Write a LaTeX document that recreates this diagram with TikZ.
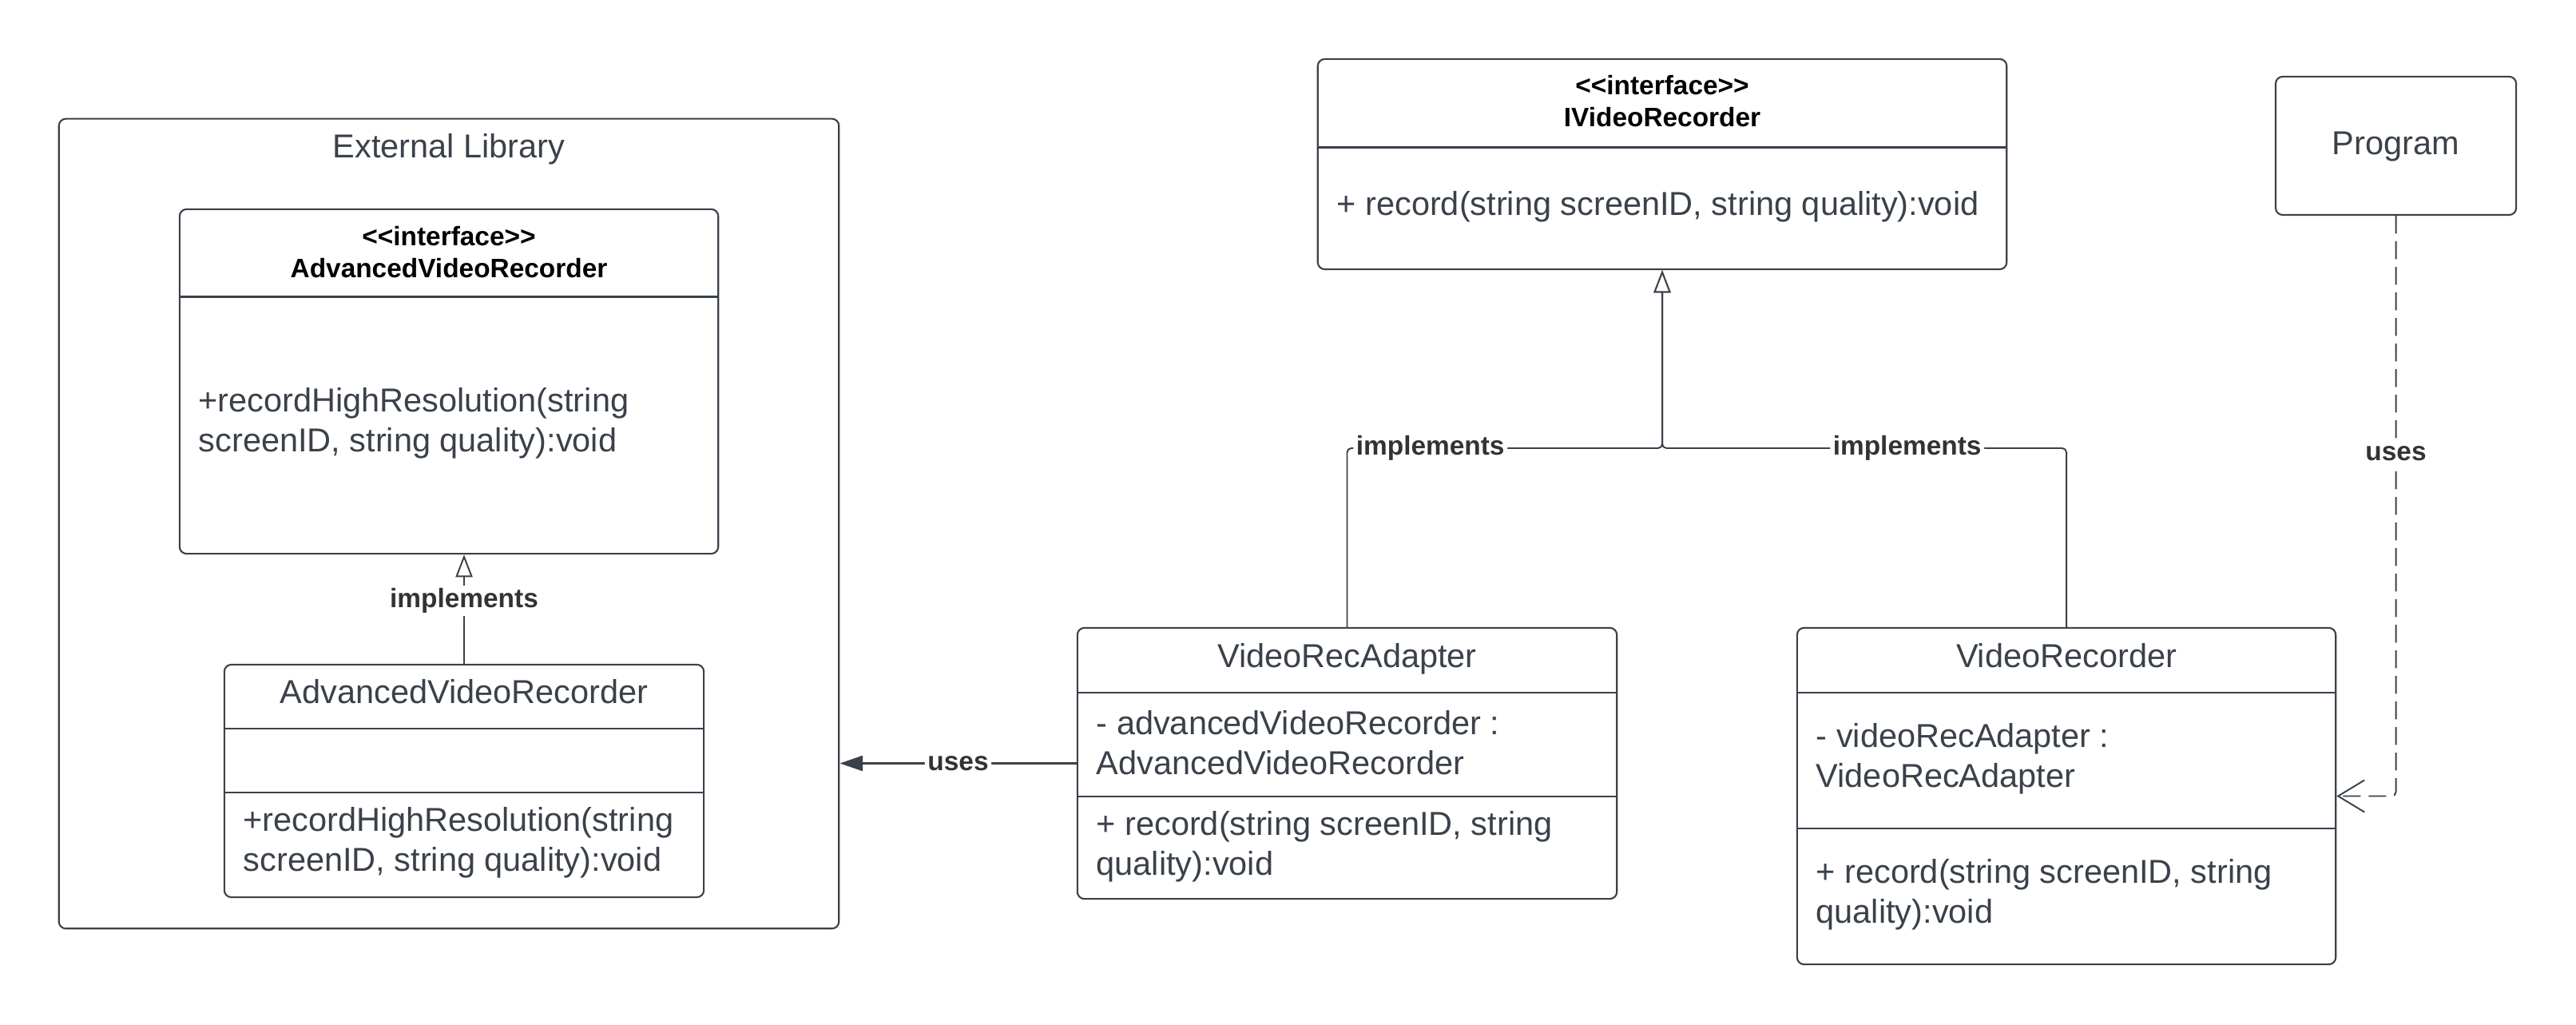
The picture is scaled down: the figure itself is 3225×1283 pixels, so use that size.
\documentclass[tikz,border=0pt]{standalone}
\usepackage{fontspec}
\setmainfont{Liberation Sans}
\usetikzlibrary{arrows.meta}
\definecolor{lucidline}{HTML}{3A414A}
\definecolor{lucidlabel}{HTML}{333333}

\begin{document}
\begin{tikzpicture}[x=0.01cm, y=-0.01cm,
    box/.style={draw=lucidline, line width=0.6pt, rounded corners=2.5pt, inner sep=0pt},
    divider/.style={draw=lucidline, line width=0.85pt},
    txt/.style={text=lucidline, font=\fontsize{11.8}{14.2}\selectfont, inner sep=0pt, align=left, anchor=west},
    title/.style={txt, align=center, anchor=center, text height=0.72em, text depth=0.21em},
    head/.style={font=\bfseries\fontsize{9.5}{11.4}\selectfont, inner sep=0pt, align=center},
    lbl/.style={text=lucidlabel, font=\bfseries\fontsize{9.5}{11.4}\selectfont, fill=white, inner sep=1pt},
    conn/.style={draw=lucidline, line width=0.55pt, rounded corners=1.5pt},
    realize/.style={conn, -{Triangle[length=8pt, width=6pt, fill=white]}},
    uses/.style={conn, line width=0.8pt, -{Triangle[length=8.2pt, width=5.4pt]}},
    dep/.style={conn, dash pattern=on 6.3pt off 2.8pt, -{Straight Barb[length=9.4pt, width=11.4pt]}}
  ]
    \useasboundingbox (0,0) rectangle (3225,1283);

    % external library
    \node[box, minimum width=9.76cm, minimum height=10.13cm] (extlib) at (562,655.5) {};
    \node[title] (extlibname) at (562,189) {External Library};

    \node[box, minimum width=6.74cm, minimum height=4.31cm] (avri) at (562,477.5) {};
    \node[head] (avrihead) at (562,316) {<{}<interface>{}>\\AdvancedVideoRecorder};
    \draw[divider] (avri.west |- 0,372) -- (avri.east |- 0,372);
    \node[txt] (avrimeth) at (248,530) {+recordHighResolution(string\\screenID, string quality):void};

    \node[box, minimum width=6cm, minimum height=2.91cm] (avrc) at (581,977.5) {};
    \node[title] (avrcname) at (581,872) {AdvancedVideoRecorder};
    \draw[divider] (avrc.west |- 0,912) -- (avrc.east |- 0,912);
    \draw[divider] (avrc.west |- 0,992) -- (avrc.east |- 0,992);
    \node[txt] (avrcmeth) at (304,1055) {+recordHighResolution(string\\screenID, string quality):void};

    % adapter
    \node[box, minimum width=6.75cm, minimum height=3.39cm] (vra) at (1686.5,955.5) {};
    \node[title] (vraname) at (1686.5,827) {VideoRecAdapter};
    \draw[divider] (vra.west |- 0,867) -- (vra.east |- 0,867);
    \draw[divider] (vra.west |- 0,997) -- (vra.east |- 0,997);
    \node[txt] (vraattr) at (1372,930) {- advancedVideoRecorder :\\AdvancedVideoRecorder};
    \node[txt] (vrameth) at (1372,1060) {+ record(string screenID, string\\quality):void};

    % target interface
    \node[box, minimum width=8.62cm, minimum height=2.63cm] (ivr) at (2081,205.5) {};
    \node[head] (ivrhead) at (2081,127) {<{}<interface>{}>\\IVideoRecorder};
    \draw[divider] (ivr.west |- 0,185) -- (ivr.east |- 0,185);
    \node[txt] (ivrmeth) at (1673,259) {+ record(string screenID, string quality):void};

    % recorder
    \node[box, minimum width=6.74cm, minimum height=4.21cm] (vr) at (2587,996.5) {};
    \node[title] (vrname) at (2587,827) {VideoRecorder};
    \draw[divider] (vr.west |- 0,867) -- (vr.east |- 0,867);
    \draw[divider] (vr.west |- 0,1037) -- (vr.east |- 0,1037);
    \node[txt] (vrattr) at (2273,950) {- videoRecAdapter :\\VideoRecAdapter};
    \node[txt] (vrmeth) at (2273,1120) {+ record(string screenID, string\\quality):void};

    % client
    \node[box, minimum width=3.01cm, minimum height=1.73cm] (prog) at (2999.5,182.5) {};
    \node[title] (progname) at (2999.5,185) {Program};

    % connectors
    \coordinate (jn) at (ivr.south |- 0,561);
    \draw[realize] (vra.north) |- node[lbl, pos=0.632] {implements} (jn) -- (ivr.south);
    \draw[realize] (vr.north) |- node[lbl, pos=0.697] {implements} (jn) -- (ivr.south);
    \draw[realize] (avrc.north) -- node[lbl, pos=0.576] {implements} (avrc.north |- avri.south);
    \draw[uses] (vra.west) -- node[lbl] {uses} (vra.west -| extlib.east);
    \draw[dep] (prog.south) |- node[lbl, pos=0.205] {uses} (vr.east);

  \end{tikzpicture}
\end{document}
